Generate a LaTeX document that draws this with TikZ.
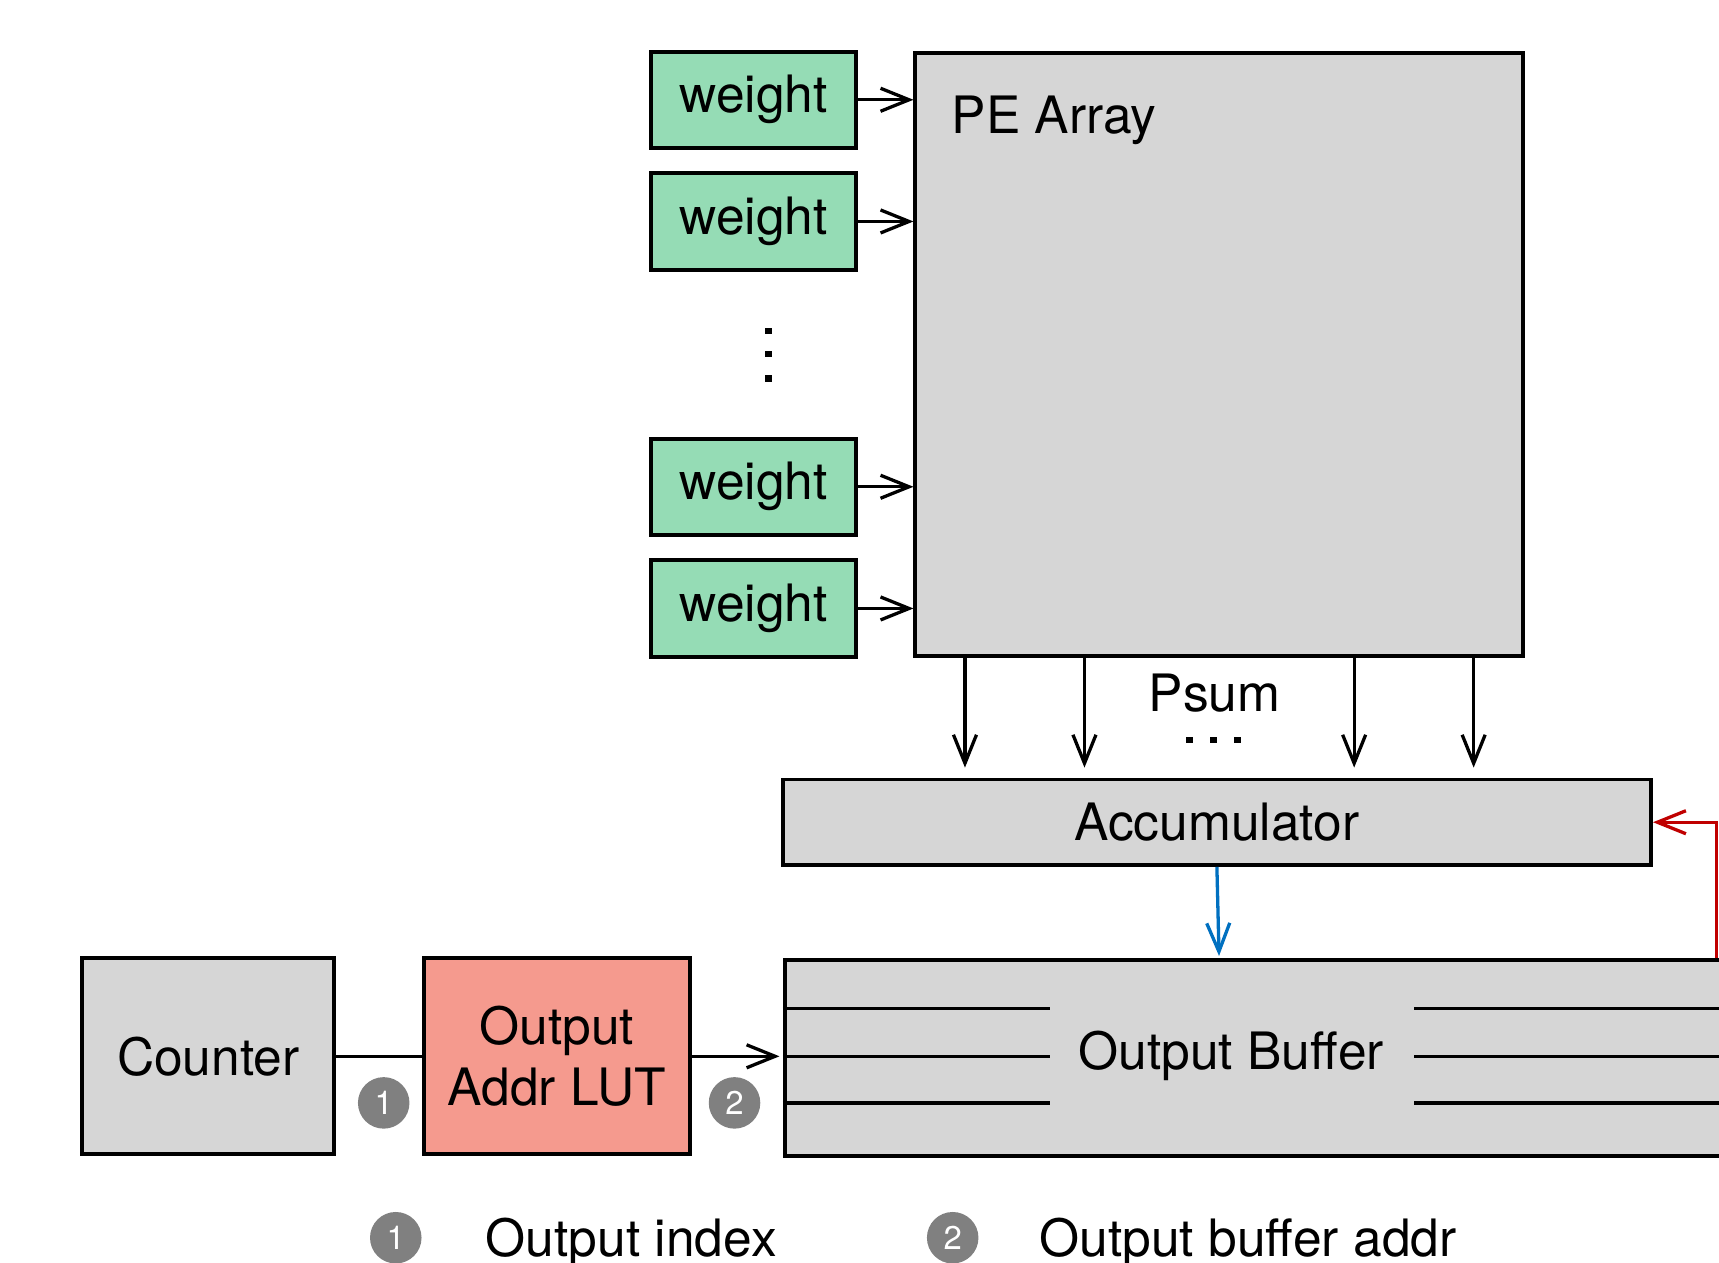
\documentclass[tikz,border=0pt]{standalone}
\usepackage{fontspec}
\setmainfont{TeX Gyre Heros}
\usetikzlibrary{arrows.meta,calc}
\definecolor{wgreen}{RGB}{149,220,181}
\definecolor{lutred}{RGB}{245,154,142}
\definecolor{boxgray}{RGB}{214,214,214}
\definecolor{circgray}{RGB}{128,128,128}
\definecolor{fbblue}{RGB}{0,112,192}
\definecolor{fbred}{RGB}{192,0,0}
\tikzset{
  blk/.style={draw=black, line width=3.6pt, fill=boxgray, inner sep=0pt, font=\fontsize{47}{56}\selectfont},
  wbox/.style={blk, fill=wgreen, minimum width=187pt, minimum height=88pt},
  conn/.style={line width=3pt, -{Straight Barb[length=26pt,width=21pt,line width=3pt]}},
  plain/.style={line width=3pt},
  num/.style={circle, fill=circgray, text=white, minimum size=47pt, inner sep=0pt, font=\fontsize{30}{32}\selectfont},
  lbl/.style={font=\fontsize{47}{56}\selectfont, inner sep=0pt},
  dotsq/.style={fill=black, minimum size=6pt, inner sep=0pt},
}
\begin{document}
\begin{tikzpicture}[x=1pt,y=-1pt]
\clip (0,0) rectangle (1568,1152);
\fill[white] (0,0) rectangle (1568,1152);

% weights
\node[wbox] (w1) at (687.5,91) {weight};
\node[wbox] (w2) at (687.5,202) {weight};
\node[wbox] (w3) at (687.5,444) {weight};
\node[wbox] (w4) at (687.5,555) {weight};
\node[dotsq] (vd1) at (701,302) {};
\node[dotsq] (vd2) at (701,323) {};
\node[dotsq] (vd3) at (701,345) {};

% PE array
\node[blk, minimum width=554pt, minimum height=550pt] (pe) at (1112,323) {};
\node[lbl, anchor=base west] (petxt) at (868,122) {PE Array};

\foreach \w in {w1,w2,w3,w4}
  \draw[conn] (\w.east) -- (\w.east -| pe.west);

% accumulator
\node[blk, minimum width=792pt, minimum height=78pt] (acc) at (1110,750) {Accumulator};

\draw[conn, shorten >=9pt] ([xshift=47pt]pe.south west) -- ([xshift=168pt]acc.north west);
\draw[conn, shorten >=9pt] ([xshift=156pt]pe.south west) -- ([xshift=277pt]acc.north west);
\draw[conn, shorten >=9pt] ([xshift=402pt]pe.south west) -- ([xshift=523pt]acc.north west);
\draw[conn, shorten >=9pt] ([xshift=511pt]pe.south west) -- ([xshift=632pt]acc.north west);
\node[lbl, anchor=base] (psum) at (1108,649) {Psum};
\node[dotsq] (hd1) at (1085,675) {};
\node[dotsq] (hd2) at (1107,675) {};
\node[dotsq] (hd3) at (1129,675) {};

% output buffer
\node[blk, minimum width=880pt, minimum height=179pt, anchor=north west] (buf) at (714,874) {};
\draw[plain] ([yshift=-46pt]buf.north west) -- ++(244,0);
\draw[plain] ([yshift=-90pt]buf.north west) -- ++(244,0);
\draw[plain] ([yshift=-132pt]buf.north west) -- ++(244,0);
\draw[plain] ([yshift=-46pt,xshift=576pt]buf.north west) -- ++(320,0);
\draw[plain] ([yshift=-90pt,xshift=576pt]buf.north west) -- ++(320,0);
\draw[plain] ([yshift=-132pt,xshift=576pt]buf.north west) -- ++(320,0);
\node[lbl] (buftxt) at (1123,963) {Output Buffer};

% feedback arrows
\draw[conn, draw=fbblue, shorten >=2pt] (acc.south) -- ([xshift=2pt]acc.south |- buf.north);
\coordinate (rb) at (1566,874);
\draw[conn, draw=fbred] (rb) |- (acc.east);

% counter and LUT
\node[blk, minimum width=230pt, minimum height=179pt] (cnt) at (190,963.5) {Counter};
\node[blk, fill=lutred, minimum width=242pt, minimum height=179pt, align=center] (lut) at (508,963.5) {Output\\Addr LUT};
\draw[plain] (cnt.east) -- (lut.west);
\draw[conn, shorten >=3pt] (lut.east) -- (lut.east -| buf.west);
\node[num] (n1) at (350,1006) {1};
\node[num] (n2) at (670,1006) {2};

% legend
\node[num] (l1) at (361,1129) {1};
\node[lbl, anchor=base west] (l1t) at (443,1146) {Output index};
\node[num] (l2) at (869,1129) {2};
\node[lbl, anchor=base west] (l2t) at (948,1146) {Output buffer addr};
\end{tikzpicture}
\end{document}
